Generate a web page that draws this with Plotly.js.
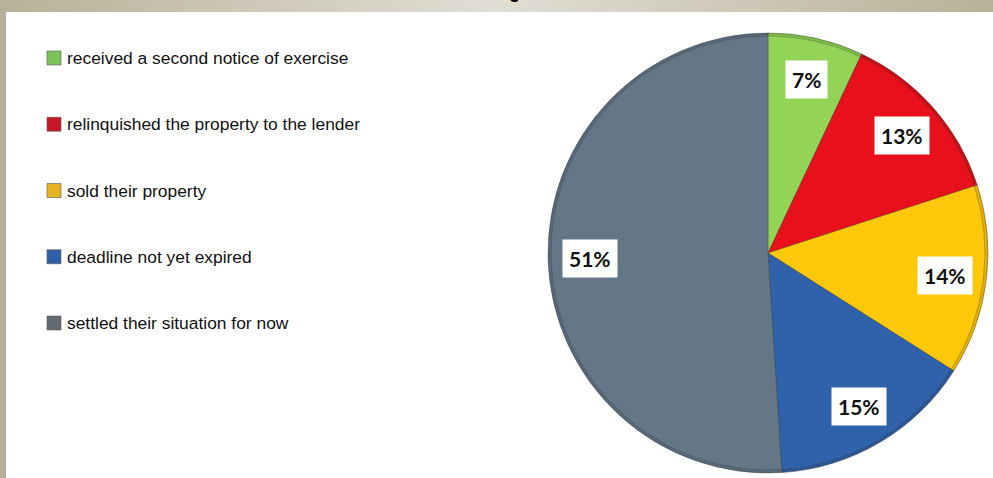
<!DOCTYPE html>
<html><head><meta charset="utf-8">
<script src="https://cdn.plot.ly/plotly-3.0.1.min.js"></script>
<style>
html,body{margin:0;padding:0;width:993px;height:478px;overflow:hidden;
background:linear-gradient(to right,#b8b199 0%,#e1ded4 50%,#b8b199 100%);}
#chart{width:993px;height:478px;}
</style></head><body><div id="chart"></div>
<script>
// ---- data ----
const categories = [
  "received a second notice of exercise",
  "relinquished the property to the lender",
  "sold their property",
  "deadline not yet expired",
  "settled their situation for now"
];
const values = [7, 13, 14, 15, 51];
const valueLabels = ["7%", "13%", "14%", "15%", "51%"];
const sliceColors = ["#93d456", "#e8101a", "#fdc80a", "#2f62ab", "#637786"];
const rimColors = ["#7bbd45", "#c90d15", "#e6b000", "#2a5596", "#56687a"];
const swatchColors = ["#7cc35a", "#c8182a", "#e6b422", "#2f5fa6", "#626b74"];

// ---- geometry (pixels) ----
const W = 993, H = 478;
const px = x => x / W;
const py = y => (H - y) / H;
const pie = {cx: 768, cy: 253, r: 220, rim: 3};

const shapes = [
  {type: "rect", xref: "paper", yref: "paper", x0: px(6), x1: 1.01, y0: -0.01, y1: py(12),
   fillcolor: "#ffffff", line: {width: 0}, layer: "below"}
];
const annotations = [];

// legend built from categories
const legTop = 58, legStep = 66.25;
categories.forEach((c, i) => {
  const yc = legTop + i * legStep;
  shapes.push({type: "rect", xref: "paper", yref: "paper",
    x0: px(47), x1: px(61), y0: py(yc + 7), y1: py(yc - 7),
    fillcolor: swatchColors[i], line: {color: "rgba(90,90,90,0.6)", width: 1}});
  annotations.push({xref: "paper", yref: "paper", x: px(65), y: py(yc),
    xanchor: "left", yanchor: "middle", showarrow: false, text: c,
    font: {family: "Liberation Sans, Arial, sans-serif", size: 17.4, color: "#111"}});
});

// percentage boxes placed at each slice's mid-angle
const total = values.reduce((a, b) => a + b, 0);
let cum = 0;
values.forEach((v, i) => {
  const mid = (cum + v / 2) / total * 2 * Math.PI;
  cum += v;
  const f = 0.81;
  const x = pie.cx + pie.r * f * Math.sin(mid);
  const y = pie.cy - pie.r * f * Math.cos(mid);
  annotations.push({xref: "paper", yref: "paper", x: px(x), y: py(y),
    xanchor: "center", yanchor: "middle", showarrow: false, text: "<b>" + valueLabels[i] + "</b>",
    font: {family: "Lato, Open Sans, sans-serif", size: 21, color: "#111"},
    bgcolor: "#ffffff", borderpad: 6});
});

// cut-off title glyph at top (reference title is clipped by the frame)
annotations.push({xref: "paper", yref: "paper", x: px(514), y: py(4), xanchor: "center", yanchor: "bottom",
  showarrow: false, text: "<b>g</b>", font: {family: "Liberation Sans", size: 18, color: "#000"}});

const dom = r => ({x: [px(pie.cx - r), px(pie.cx + r)], y: [py(pie.cy + r), py(pie.cy - r)]});
const base = {
  type: "pie", labels: categories, values: values, sort: false,
  direction: "clockwise", rotation: 0, textinfo: "none", hoverinfo: "none"
};
const rimTrace = Object.assign({}, base, {
  marker: {colors: rimColors, line: {color: "rgba(60,60,60,0.45)", width: 1}},
  domain: dom(pie.r)
});
const mainTrace = Object.assign({}, base, {
  marker: {colors: sliceColors, line: {color: "rgba(70,70,70,0.35)", width: 1}},
  domain: dom(pie.r - pie.rim)
});

Plotly.newPlot("chart", [rimTrace, mainTrace], {
  width: W, height: H,
  margin: {l: 0, r: 0, t: 0, b: 0},
  paper_bgcolor: "rgba(0,0,0,0)",
  plot_bgcolor: "rgba(0,0,0,0)",
  showlegend: false,
  shapes: shapes,
  annotations: annotations
}, {displayModeBar: false, staticPlot: true});
</script></body></html>
